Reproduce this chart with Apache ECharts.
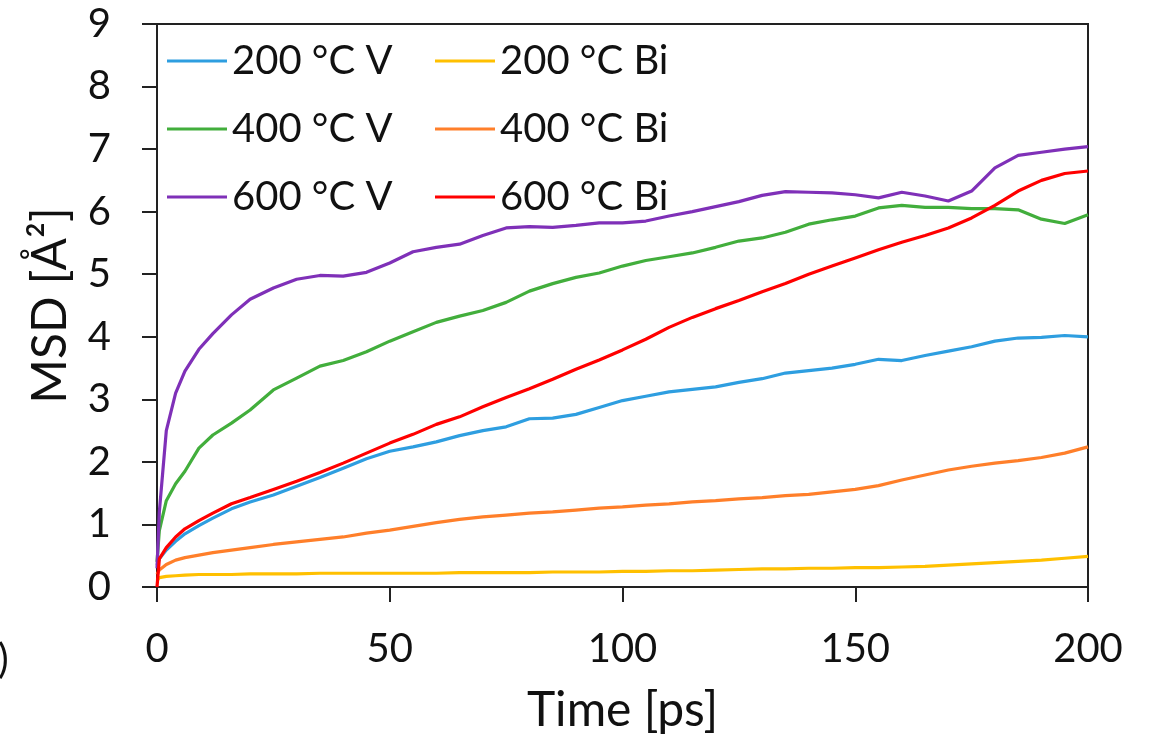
<!DOCTYPE html>
<html>
<head>
<meta charset="utf-8">
<script src="https://cdn.jsdelivr.net/npm/echarts@6/dist/echarts.min.js"></script>
<style>
  html, body { margin: 0; padding: 0; background: #fff; }
  #chart { width: 1152px; height: 735px; }
</style>
</head>
<body>
<div id="chart"></div>
<script>
// Mean squared displacement vs. simulation time for V and Bi at three temperatures
const time = [0, 0.5, 2, 4, 6, 9, 12, 16, 20, 25, 30, 35, 40, 45, 50, 55, 60, 65, 70, 75,
  80, 85, 90, 95, 100, 105, 110, 115, 120, 125, 130, 135, 140, 145, 150, 155, 160, 165,
  170, 175, 180, 185, 190, 195, 200];

const msd200V = [0.35, 0.45, 0.59, 0.73, 0.85, 0.98, 1.10, 1.25, 1.36, 1.47, 1.61, 1.75, 1.90,
  2.05, 2.17, 2.24, 2.32, 2.42, 2.50, 2.56, 2.69, 2.70, 2.76, 2.87, 2.98, 3.05, 3.12, 3.16,
  3.20, 3.27, 3.33, 3.42, 3.46, 3.50, 3.56, 3.64, 3.62, 3.70, 3.77, 3.84, 3.93, 3.98, 3.99,
  4.02, 4.00];

const msd200Bi = [0.10, 0.15, 0.17, 0.18, 0.19, 0.20, 0.20, 0.20, 0.21, 0.21, 0.21, 0.22, 0.22,
  0.22, 0.22, 0.22, 0.22, 0.23, 0.23, 0.23, 0.23, 0.24, 0.24, 0.24, 0.25, 0.25, 0.26, 0.26,
  0.27, 0.28, 0.29, 0.29, 0.30, 0.30, 0.31, 0.31, 0.32, 0.33, 0.35, 0.37, 0.39, 0.41, 0.43,
  0.46, 0.49];

const msd400V = [0.40, 0.90, 1.38, 1.65, 1.85, 2.22, 2.43, 2.62, 2.83, 3.15, 3.34, 3.53, 3.62,
  3.76, 3.93, 4.08, 4.23, 4.33, 4.42, 4.55, 4.73, 4.85, 4.95, 5.02, 5.13, 5.22, 5.28, 5.34,
  5.43, 5.53, 5.58, 5.67, 5.80, 5.87, 5.93, 6.06, 6.10, 6.07, 6.07, 6.05, 6.05, 6.03, 5.88,
  5.81, 5.95];

const msd400Bi = [0.20, 0.27, 0.36, 0.43, 0.47, 0.51, 0.55, 0.59, 0.63, 0.68, 0.72, 0.76, 0.80,
  0.86, 0.91, 0.97, 1.03, 1.08, 1.12, 1.15, 1.18, 1.20, 1.23, 1.26, 1.28, 1.31, 1.33, 1.36,
  1.38, 1.41, 1.43, 1.46, 1.48, 1.52, 1.56, 1.62, 1.71, 1.79, 1.87, 1.93, 1.98, 2.02, 2.07,
  2.14, 2.24];

const msd600V = [0.30, 1.20, 2.50, 3.10, 3.45, 3.80, 4.05, 4.35, 4.60, 4.78, 4.92, 4.98, 4.97,
  5.03, 5.18, 5.36, 5.43, 5.48, 5.62, 5.74, 5.76, 5.75, 5.78, 5.82, 5.82, 5.85, 5.93, 6.00,
  6.08, 6.16, 6.26, 6.32, 6.31, 6.30, 6.27, 6.22, 6.31, 6.25, 6.17, 6.33, 6.70, 6.90, 6.95,
  7.00, 7.04];

const msd600Bi = [0.00, 0.45, 0.63, 0.80, 0.93, 1.06, 1.18, 1.33, 1.43, 1.56, 1.69, 1.83, 1.98,
  2.14, 2.30, 2.44, 2.60, 2.72, 2.88, 3.03, 3.17, 3.32, 3.48, 3.63, 3.79, 3.96, 4.15, 4.31,
  4.45, 4.58, 4.72, 4.85, 5.00, 5.13, 5.26, 5.39, 5.51, 5.62, 5.74, 5.90, 6.10, 6.33, 6.50,
  6.61, 6.65];

const xTicks = { min: 0, max: 200, step: 50 };
const yTicks = { min: 0, max: 9, step: 1 };

const legendLeft = ['200 °C V', '400 °C V', '600 °C V'];
const legendRight = ['200 °C Bi', '400 °C Bi', '600 °C Bi'];

// Drawing order: later entries are painted on top
const curves = [
  { name: '200 °C Bi', values: msd200Bi, color: '#FFC000' },
  { name: '400 °C Bi', values: msd400Bi, color: '#FF7F2A' },
  { name: '200 °C V',  values: msd200V,  color: '#2E9EE0' },
  { name: '400 °C V',  values: msd400V,  color: '#42AE3C' },
  { name: '600 °C V',  values: msd600V,  color: '#7F30B8' },
  { name: '600 °C Bi', values: msd600Bi, color: '#FF0000' }
];

const FONT = 'Lato';
const chart = echarts.init(document.getElementById('chart'), null, { renderer: 'canvas' });

const legendCommon = {
  orient: 'vertical',
  top: 36,
  itemWidth: 60,
  itemHeight: 14,
  itemGap: 28,
  icon: 'path://M0,6 L60,6 L60,9 L0,9 Z',
  textStyle: { fontFamily: FONT, fontSize: 40, color: '#111', lineHeight: 40 },
  selectedMode: false
};

chart.setOption({
  animation: false,
  backgroundColor: '#fff',
  grid: {
    left: 157, right: 64, top: 24, bottom: 148,
    outerBoundsMode: 'none',
    containLabel: false,
    show: true, borderColor: '#222', borderWidth: 2, backgroundColor: 'transparent'
  },
  legend: [
    Object.assign({}, legendCommon, { left: 162, data: legendLeft }),
    Object.assign({}, legendCommon, { left: 430, data: legendRight })
  ],
  xAxis: {
    type: 'value',
    min: xTicks.min, max: xTicks.max, interval: xTicks.step,
    name: 'Time [ps]',
    nameLocation: 'middle',
    nameGap: 100,
    nameTextStyle: { fontFamily: FONT, fontSize: 48, color: '#111' },
    axisLine: { lineStyle: { color: '#222', width: 2 } },
    axisTick: { length: 15, lineStyle: { color: '#222', width: 2 } },
    axisLabel: { fontFamily: FONT, fontSize: 40, color: '#111', margin: 42 },
    splitLine: { show: false }
  },
  yAxis: {
    type: 'value',
    min: yTicks.min, max: yTicks.max, interval: yTicks.step,
    name: 'MSD [Å²]',
    nameLocation: 'middle',
    nameGap: 82,
    nameTextStyle: { fontFamily: FONT, fontSize: 48, color: '#111' },
    axisLine: { show: true, lineStyle: { color: '#222', width: 2 } },
    axisTick: { show: true, length: 15, lineStyle: { color: '#222', width: 2 } },
    axisLabel: { fontFamily: FONT, fontSize: 40, color: '#111', margin: 46 },
    splitLine: { show: false }
  },
  graphic: [
    {
      // panel letter, mostly cut off by the left edge
      type: 'text', x: -34, y: 640,
      style: { text: '(b)', font: '40px ' + FONT, fill: '#111' }
    }
  ],
  series: curves.map(c => ({
    name: c.name,
    type: 'line',
    data: time.map((t, i) => [t, c.values[i]]),
    showSymbol: false,
    symbol: 'none',
    smooth: false,
    color: c.color,
    lineStyle: { color: c.color, width: 3.2 },
    itemStyle: { color: c.color },
    emphasis: { disabled: true }
  }))
});
</script>
</body>
</html>
